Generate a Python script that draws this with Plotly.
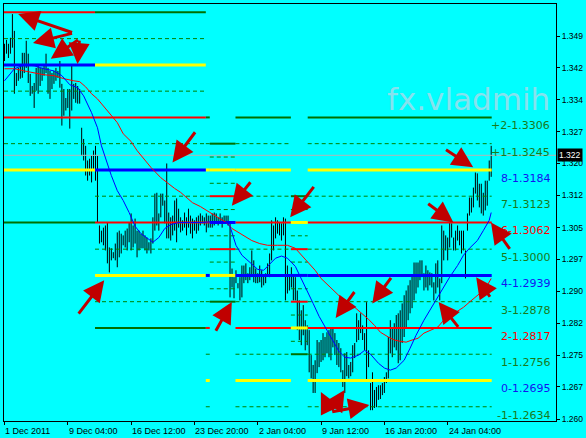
import plotly.graph_objects as go

# ---------------- data ----------------
bar_high = [
    1.3477, 1.3486, 1.3477, 1.3491, 1.3546, 1.3507, 1.3409, 1.3421, 1.3430, 1.3456,
    1.3456, 1.3484, 1.3454, 1.3407, 1.3379, 1.3386, 1.3421, 1.3426, 1.3421, 1.3421,
    1.3426, 1.3454, 1.3421, 1.3414, 1.3409, 1.3414, 1.3421, 1.3414, 1.3437, 1.3384,
    1.3372, 1.3351, 1.3372, 1.3372, 1.3430, 1.3384, 1.3386, 1.3379, 1.3372, 1.3282,
    1.3256, 1.3240, 1.3206, 1.3210, 1.3217, 1.3229, 1.3240, 1.3217, 1.3055, 1.3043,
    1.3050, 1.3055, 1.3062, 1.3004, 1.3002, 1.2993, 1.3013, 1.3039, 1.3043, 1.3036,
    1.3032, 1.3043, 1.3048, 1.3062, 1.3083, 1.3055, 1.3071, 1.3043, 1.3043, 1.3036,
    1.3043, 1.3032, 1.3027, 1.3016, 1.3025, 1.3074, 1.3129, 1.3131, 1.3083, 1.3129,
    1.3129, 1.3113, 1.3199, 1.3085, 1.3074, 1.3078, 1.3113, 1.3118, 1.3094, 1.3074,
    1.3067, 1.3085, 1.3074, 1.3094, 1.3078, 1.3071, 1.3067, 1.3074, 1.3078, 1.3083,
    1.3078, 1.3074, 1.3083, 1.3078, 1.3078, 1.3083, 1.3085, 1.3083, 1.3074, 1.3083,
    1.3074, 1.3078, 1.3078, 1.3078, 1.3062, 1.2955, 1.2935, 1.2951, 1.2921, 1.2935,
    1.2962, 1.2962, 1.2967, 1.2944, 1.2958, 1.2997, 1.2974, 1.2955, 1.2944, 1.2962,
    1.2951, 1.2939, 1.2944, 1.2967, 1.2990, 1.3067, 1.3055, 1.3074, 1.3067, 1.3062,
    1.3060, 1.3074, 1.3071, 1.2962, 1.2939, 1.2958, 1.2939, 1.2935, 1.2904, 1.2881,
    1.2858, 1.2870, 1.2835, 1.2823, 1.2812, 1.2754, 1.2731, 1.2742, 1.2789, 1.2784,
    1.2789, 1.2805, 1.2796, 1.2807, 1.2812, 1.2816, 1.2819, 1.2805, 1.2789, 1.2782,
    1.2770, 1.2719, 1.2758, 1.2761, 1.2731, 1.2738, 1.2777, 1.2782, 1.2851, 1.2835,
    1.2851, 1.2823, 1.2805, 1.2877, 1.2765, 1.2689, 1.2714, 1.2673, 1.2680, 1.2684,
    1.2684, 1.2689, 1.2703, 1.2714, 1.2796, 1.2835, 1.2819, 1.2828, 1.2847, 1.2851,
    1.2858, 1.2874, 1.2893, 1.2904, 1.2916, 1.2928, 1.2939, 1.2969, 1.2969, 1.2969,
    1.2974, 1.2974, 1.2944, 1.2962, 1.2951, 1.2946, 1.2944, 1.2923, 1.2967, 1.2974,
    1.2932, 1.3055, 1.3043, 1.3032, 1.3027, 1.3062, 1.3060, 1.3027, 1.3043, 1.3055,
    1.3043, 1.3043, 1.3043, 1.2997, 1.3083, 1.3120, 1.3120, 1.3143, 1.3178, 1.3176,
    1.3152, 1.3152, 1.3131, 1.3159, 1.3159, 1.3206, 1.3240,
]
bar_low = [
    1.3437, 1.3454, 1.3444, 1.3454, 1.3468, 1.3361, 1.3379, 1.3391, 1.3396, 1.3398,
    1.3409, 1.3421, 1.3386, 1.3356, 1.3361, 1.3328, 1.3368, 1.3361, 1.3379, 1.3391,
    1.3403, 1.3409, 1.3361, 1.3349, 1.3372, 1.3384, 1.3391, 1.3398, 1.3375, 1.3287,
    1.3310, 1.3322, 1.3328, 1.3280, 1.3322, 1.3349, 1.3340, 1.3338, 1.3338, 1.3217,
    1.3206, 1.3171, 1.3159, 1.3171, 1.3155, 1.3182, 1.3159, 1.3062, 1.3013, 1.3016,
    1.3009, 1.2997, 1.2967, 1.2946, 1.2974, 1.2979, 1.2974, 1.2958, 1.2981, 1.2990,
    1.3009, 1.3004, 1.2997, 1.3016, 1.2997, 1.3004, 1.3013, 1.2981, 1.2997, 1.3002,
    1.3002, 1.2997, 1.2990, 1.2997, 1.2990, 1.3013, 1.3043, 1.3055, 1.3043, 1.3074,
    1.3101, 1.3060, 1.3025, 1.3025, 1.3020, 1.3032, 1.3043, 1.3016, 1.3050, 1.3039,
    1.3043, 1.3050, 1.3032, 1.3050, 1.3036, 1.3025, 1.3043, 1.3036, 1.3043, 1.3055,
    1.3060, 1.3055, 1.3039, 1.3050, 1.3050, 1.3050, 1.3055, 1.3060, 1.3055, 1.3060,
    1.3050, 1.3062, 1.3060, 1.3055, 1.2888, 1.2911, 1.2886, 1.2921, 1.2909, 1.2881,
    1.2888, 1.2921, 1.2928, 1.2921, 1.2928, 1.2935, 1.2923, 1.2921, 1.2921, 1.2923,
    1.2911, 1.2916, 1.2921, 1.2939, 1.2935, 1.2974, 1.2997, 1.3025, 1.3036, 1.3032,
    1.3020, 1.3032, 1.2881, 1.2897, 1.2904, 1.2911, 1.2881, 1.2881, 1.2812, 1.2789,
    1.2777, 1.2800, 1.2765, 1.2777, 1.2714, 1.2700, 1.2666, 1.2666, 1.2712, 1.2726,
    1.2738, 1.2742, 1.2749, 1.2758, 1.2749, 1.2742, 1.2772, 1.2754, 1.2731, 1.2726,
    1.2714, 1.2680, 1.2666, 1.2705, 1.2700, 1.2705, 1.2714, 1.2747, 1.2784, 1.2789,
    1.2805, 1.2789, 1.2765, 1.2696, 1.2726, 1.2626, 1.2626, 1.2631, 1.2633, 1.2650,
    1.2652, 1.2661, 1.2666, 1.2689, 1.2700, 1.2758, 1.2749, 1.2772, 1.2765, 1.2735,
    1.2742, 1.2782, 1.2796, 1.2819, 1.2835, 1.2851, 1.2863, 1.2881, 1.2897, 1.2911,
    1.2928, 1.2935, 1.2904, 1.2911, 1.2904, 1.2916, 1.2911, 1.2881, 1.2897, 1.2911,
    1.2881, 1.2921, 1.2974, 1.2997, 1.2974, 1.3004, 1.3027, 1.2997, 1.2997, 1.3020,
    1.3009, 1.2990, 1.2997, 1.2932, 1.3043, 1.3078, 1.3085, 1.3097, 1.3129, 1.3113,
    1.3097, 1.3083, 1.3078, 1.3090, 1.3101, 1.3159, 1.3168,
]

ma_fast_idx = [0, 5, 10, 15, 20, 25, 29, 33, 37, 40, 44, 47, 49, 51, 54, 57, 60, 63, 66, 69,
               72, 75, 78, 81, 84, 88, 94, 100, 106, 112, 114, 117, 120, 124, 128, 131, 134, 137, 140, 143,
               147, 150, 153, 156, 159, 162, 165, 169, 172, 175, 179, 182, 185, 189, 192, 195, 198, 202, 205, 208,
               212, 215, 219, 222, 225, 229, 232, 235, 239, 242, 245, 246]
ma_fast = [1.3391, 1.3419, 1.3428, 1.3426, 1.3419, 1.3414, 1.3403, 1.3382, 1.3375, 1.3356,
           1.3317, 1.3282, 1.3240, 1.3213, 1.3171, 1.3136, 1.3113, 1.3085, 1.3053, 1.3036,
           1.3025, 1.3016, 1.3027, 1.3048, 1.3057, 1.3062, 1.3062, 1.3062, 1.3064, 1.3062,
           1.3053, 1.3009, 1.2986, 1.2969, 1.2953, 1.2951, 1.2965, 1.2979, 1.2984, 1.2979,
           1.2960, 1.2932, 1.2902, 1.2874, 1.2844, 1.2819, 1.2793, 1.2763, 1.2749, 1.2747,
           1.2754, 1.2765, 1.2756, 1.2735, 1.2724, 1.2719, 1.2724, 1.2742, 1.2770, 1.2800,
           1.2835, 1.2858, 1.2886, 1.2909, 1.2935, 1.2962, 1.2986, 1.3002, 1.3020, 1.3043,
           1.3067, 1.3085]

ma_slow_idx = [0, 5, 10, 15, 20, 25, 30, 35, 38, 41, 44, 47, 50, 54, 57, 60, 64, 67, 70, 74,
               79, 82, 86, 89, 92, 95, 99, 102, 105, 109, 112, 115, 119, 122, 125, 129, 133, 138, 143, 147,
               150, 154, 157, 160, 164, 167, 170, 174, 177, 180, 184, 187, 190, 194, 197, 200, 203, 206, 209, 212,
               216, 219, 222, 225, 229, 232, 235, 238, 241, 244, 246]
ma_slow = [1.3419, 1.3419, 1.3414, 1.3410, 1.3405, 1.3403, 1.3396, 1.3391, 1.3389, 1.3377,
           1.3361, 1.3349, 1.3333, 1.3312, 1.3294, 1.3268, 1.3250, 1.3229, 1.3213, 1.3190,
           1.3166, 1.3155, 1.3141, 1.3132, 1.3120, 1.3108, 1.3099, 1.3090, 1.3081, 1.3071,
           1.3062, 1.3048, 1.3036, 1.3029, 1.3020, 1.3013, 1.3009, 1.3009, 1.3009, 1.3002,
           1.2986, 1.2965, 1.2951, 1.2932, 1.2914, 1.2900, 1.2888, 1.2877, 1.2865, 1.2854,
           1.2837, 1.2823, 1.2807, 1.2796, 1.2789, 1.2786, 1.2784, 1.2789, 1.2793, 1.2805,
           1.2814, 1.2819, 1.2835, 1.2847, 1.2856, 1.2865, 1.2877, 1.2888, 1.2900, 1.2916,
           1.2932]

time_tick_idx = [0, 32, 64, 96, 128, 160, 192, 224]
time_tick_text = ["1 Dec 2011", "9 Dec 04:00", "16 Dec 12:00", "23 Dec 20:00",
                  "2 Jan 04:00", "9 Jan 12:00", "16 Jan 20:00", "24 Jan 04:00"]

price_ticks = [1.2605, 1.2680, 1.2754, 1.2828, 1.2902, 1.2976, 1.3050,
               1.3125, 1.3199, 1.3273, 1.3347, 1.3421, 1.3495]
price_tick_text = ["1.260", "1.267", "1.275", "1.282", "1.290", "1.297", "1.305",
                   "1.312", "1.320", "1.327", "1.334", "1.342", "1.349"]

current_price = 1.3218
current_price_text = "1.322"

# Murrey Math levels: one row per recalculation period
murrey_names = ["+2", "+1", "8", "7", "6", "5", "4", "3", "2", "1", "0", "-1", "-2"]
seg_start = [-0.25, 45.75, 101.75, 103.75, 116.75, 144.75, 153.25]
seg_end = [45.75, 101.75, 103.75, 116.75, 144.75, 153.25, 246.25]
seg_levels = [
    [None, None, None, None, 1.3550, 1.3489, 1.3428, 1.3367, 1.3306, 1.3245, 1.3184, None, 1.3062],
    [1.3550, 1.3489, 1.3428, 1.3367, 1.3306, 1.3245, 1.3184, 1.3123, 1.3062, 1.3000, 1.2939, 1.2878, 1.2817],
    [1.3306, 1.3245, 1.3184, 1.3123, 1.3062, 1.3000, 1.2939, 1.2878, 1.2817, 1.2756, 1.2695, 1.2634, None],
    [1.3245, 1.3214, 1.3184, 1.3153, 1.3123, 1.3092, 1.3062, 1.3031, 1.3000, 1.2970, 1.2939, 1.2908, 1.2878],
    [1.3306, 1.3245, 1.3184, 1.3123, 1.3062, 1.3000, 1.2939, 1.2878, 1.2817, 1.2756, 1.2695, 1.2634, None],
    [1.3123, 1.3092, 1.3062, 1.3031, 1.3000, 1.2970, 1.2939, 1.2908, 1.2878, 1.2847, 1.2817, 1.2786, 1.2756],
    [1.3306, 1.3245, 1.3184, 1.3123, 1.3062, 1.3000, 1.2939, 1.2878, 1.2817, 1.2756, 1.2695, 1.2634, None],
]
label_names = ["+2", "+1", "8", "7", "6", "5", "4", "3", "2", "1", "0", "-1"]
label_prices = [1.3306, 1.3245, 1.3184, 1.3123, 1.3062, 1.3000, 1.2939, 1.2878, 1.2817, 1.2756, 1.2695, 1.2634]

arrow_tail_i = [34.9, 34.9, 37.9, 37.9, 36.9, 96.9, 124.9, 156.9, 106.4, 177.4, 195.9,
                164.9, 164.9, 164.9, 222.4, 213.4, 255.9, 245.9, 229.9]
arrow_tail_p = [1.3502, 1.3502, 1.3488, 1.3488, 1.2847, 1.3275, 1.3159, 1.3148, 1.2807, 1.2904, 1.2937,
                1.2622, 1.2622, 1.2622, 1.3233, 1.3108, 1.2997, 1.2886, 1.2816]
arrow_head_i = [6.9, 14.4, 23.4, 36.9, 50.4, 84.9, 114.9, 144.4, 114.9, 167.4, 185.9,
                159.9, 171.9, 184.4, 236.9, 226.9, 245.9, 238.4, 219.4]
arrow_head_p = [1.3546, 1.3479, 1.3442, 1.3430, 1.2928, 1.3201, 1.3101, 1.3074, 1.2877, 1.2840, 1.2874,
                1.2668, 1.2673, 1.2638, 1.3190, 1.3062, 1.3062, 1.2935, 1.2877]

# ---------------- styles ----------------
CYAN = "#00FFFF"
GREEN_SOLID = "#007000"
GREEN_DASH = "#008000"
STYLE = {
    "+2": dict(color=GREEN_SOLID, width=2, dash="solid"),
    "-2": dict(color=GREEN_SOLID, width=2, dash="solid"),
    "8": dict(color="#FFFF00", width=3, dash="solid"),
    "0": dict(color="#FFFF00", width=3, dash="solid"),
    "4": dict(color="#0000FF", width=3, dash="solid"),
    "6": dict(color="#FF0000", width=2, dash="solid"),
    "2": dict(color="#FF0000", width=2, dash="solid"),
}
DASH_STYLE = dict(color=GREEN_DASH, width=1, dash="4px,3px")
LABEL_COLOR = {"8": "#1414F0", "4": "#1414F0", "0": "#1414F0", "6": "#FF0000", "2": "#FF0000"}

fig = go.Figure()

# bars (high-low)
bx, by = [], []
for i, (h, l) in enumerate(zip(bar_high, bar_low)):
    bx += [i, i, None]
    by += [l, h, None]
fig.add_trace(go.Scatter(x=bx, y=by, mode="lines", line=dict(color="black", width=1),
                         hoverinfo="skip", showlegend=False))

# current price line
fig.add_trace(go.Scatter(x=[-0.25, 278.75], y=[current_price, current_price], mode="lines",
                         line=dict(color="#B4B4B4", width=1), hoverinfo="skip", showlegend=False))

# murrey lines grouped by style
groups = {}
for s0, s1, levels in zip(seg_start, seg_end, seg_levels):
    for name, p in zip(murrey_names, levels):
        if p is None:
            continue
        key = name if name in STYLE else "dash"
        groups.setdefault(key, ([], []))
        groups[key][0].extend([s0, s1, None])
        groups[key][1].extend([p, p, None])

order = ["dash", "+2", "-2", "6", "2", "8", "0", "4"]
for key in order:
    if key not in groups:
        continue
    st = DASH_STYLE if key == "dash" else STYLE[key]
    fig.add_trace(go.Scatter(x=groups[key][0], y=groups[key][1], mode="lines",
                             line=dict(color=st["color"], width=st["width"], dash=st["dash"]),
                             hoverinfo="skip", showlegend=False))

# moving averages
fig.add_trace(go.Scatter(x=ma_slow_idx, y=ma_slow, mode="lines", line=dict(color="#FF0000", width=1),
                         hoverinfo="skip", showlegend=False))
fig.add_trace(go.Scatter(x=ma_fast_idx, y=ma_fast, mode="lines", line=dict(color="#0000FF", width=1),
                         hoverinfo="skip", showlegend=False))

annotations = []
# watermark
annotations.append(dict(x=234.5, y=1.3305, xref="x", yref="y", text="fx.vladmih", showarrow=False,
                        font=dict(family="DejaVu Sans", size=31, color="#86e2ee"),
                        xanchor="center", yanchor="bottom", borderpad=0))
# murrey labels
for name, p in zip(label_names, label_prices):
    annotations.append(dict(x=276.7, y=p, xref="x", yref="y", text=f"{name}-{p:.4f}", showarrow=False,
                            xanchor="right", yanchor="middle", yshift=-8.5,
                            font=dict(family="DejaVu Sans", size=11, color=LABEL_COLOR.get(name, "#1a7a1a"))))
# arrows
for ti, tp, hi, hp in zip(arrow_tail_i, arrow_tail_p, arrow_head_i, arrow_head_p):
    annotations.append(dict(x=hi, y=hp, ax=ti, ay=tp, xref="x", yref="y", axref="x", ayref="y",
                            text="", showarrow=True, arrowhead=2, arrowsize=1.4, arrowwidth=3,
                            arrowcolor="#C00000", standoff=0, startstandoff=0))
# time labels, left aligned at tick
for ti, tt in zip(time_tick_idx, time_tick_text):
    annotations.append(dict(x=ti, y=0, xref="x", yref="paper", text=tt, showarrow=False,
                            xanchor="left", yanchor="top", xshift=-1, yshift=-3,
                            font=dict(family="Liberation Sans", size=9, color="black")))
# current price box
annotations.append(dict(x=1.0, y=current_price, xref="paper", yref="y", text=current_price_text,
                        showarrow=False, xanchor="left", yanchor="middle", xshift=1,
                        bgcolor="black", borderpad=1,
                        font=dict(family="Liberation Sans", size=8.5, color="white")))

fig.update_layout(
    width=586, height=438,
    margin=dict(l=3, r=25, t=3, b=17),
    paper_bgcolor=CYAN, plot_bgcolor=CYAN,
    showlegend=False,
    annotations=annotations,
    xaxis=dict(range=[-0.25, 278.75], showgrid=False, zeroline=False, showline=True, mirror=True,
               linecolor="black", linewidth=1, ticks="outside", ticklen=3, tickcolor="black",
               tickvals=time_tick_idx, showticklabels=False, fixedrange=True),
    yaxis=dict(range=[1.26009, 1.35694], side="right", showgrid=False, zeroline=False, showline=True,
               mirror=True, linecolor="black", linewidth=1, ticks="outside", ticklen=3,
               tickcolor="black", tickvals=price_ticks, ticktext=price_tick_text,
               tickfont=dict(family="Liberation Sans", size=8.5, color="black"), fixedrange=True),
)

fig.write_html("out.html", config={"displayModeBar": False},
               post_script="document.body.style.margin='0';document.body.style.padding='0';"
                           "document.body.style.background='#00FFFF';")
